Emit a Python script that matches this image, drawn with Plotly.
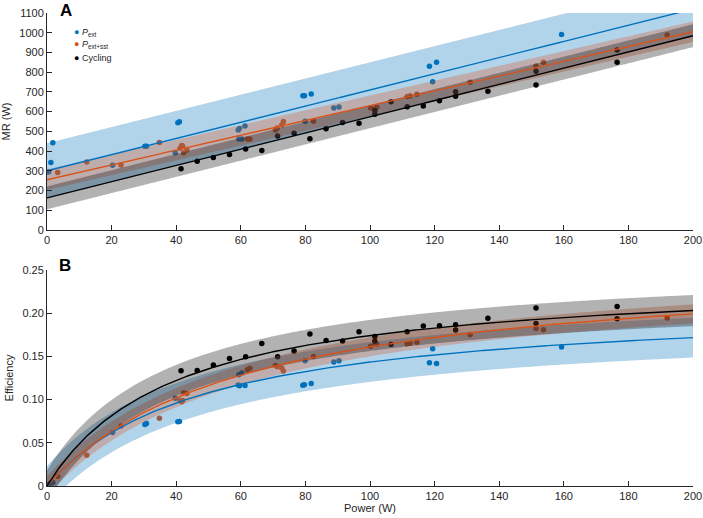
import numpy as np
import plotly.graph_objects as go

# ---------------- data ----------------
series_names = ["<i>P</i><sub>ext</sub>", "<i>P</i><sub>ext+sst</sub>", "Cycling"]

pext_power = [0.5, 1.2, 1.8, 20.3, 30.3, 30.8, 39.7, 40.5, 41.0, 59.2, 59.6, 61.3,
              59.4, 60.3, 79.2, 79.7, 81.8, 79.9, 88.8, 90.4, 118.4, 119.4, 120.6, 159.3]
pext_mr = [294, 342, 442, 328, 425, 425, 391, 544, 549, 507, 514, 527,
           461, 461, 680, 680, 689, 551, 619, 624, 830, 752, 850, 991]

pextsst_power = [3.3, 12.3, 22.9, 34.8, 41.2, 41.7, 42.0, 42.3, 43.3, 62.0, 62.8, 70.7, 71.3,
                 72.7, 73.2, 82.5, 100.2, 101.6, 102.1, 111.5, 112.4, 114.5, 131.0, 151.4, 153.7, 192.0]
pextsst_mr = [292, 345, 330, 444, 415, 428, 424, 392, 405, 461, 461, 507, 517,
              532, 550, 551, 619, 614, 622, 677, 680, 688, 749, 831, 850, 988]

cycling_power = [41.5, 46.5, 51.5, 56.5, 61.5, 66.5, 71.4, 76.5, 81.4, 86.4, 91.5, 96.6, 101.5,
                 101.5, 106.5, 111.5, 116.5, 121.5, 126.5, 126.5, 136.5, 151.4, 151.4, 176.5, 176.5]
cycling_mr = [311, 348, 368, 383, 411, 403, 477, 490, 463, 513, 545, 541, 587,
              606, 650, 625, 629, 655, 678, 701, 703, 735, 805, 850, 912]

# fitted models: MR = a + b*P ; efficiency = P / (a + b*P)
fit_mr_intercept = [300, 255, 163]
fit_mr_slope = [4.10, 3.75, 4.11]
fit_mr_band = [140, 52, 58]
fit_eff_intercept = [229, 238, 163]
fit_eff_slope = [4.68, 3.83, 4.11]
fit_eff_band = [0.023, 0.011, 0.018]

mr_ticks = list(range(0, 1101, 100))
eff_tickvals = [0, 0.05, 0.10, 0.15, 0.20, 0.25]
eff_ticktext = ["0", "0.05", "0.10", "0.15", "0.20", "0.25"]
power_ticks = list(range(0, 201, 20))

# ---------------- styling ----------------
colors = ["#0072BD", "#D95319", "#000000"]
band_colors = ["rgba(0,114,189,0.3)", "rgba(217,83,25,0.3)", "rgba(0,0,0,0.3)"]
axis_color = "#262626"
FONT = "Liberation Sans, Arial, sans-serif"

powers = [pext_power, pextsst_power, cycling_power]
mrs = [pext_mr, pextsst_mr, cycling_mr]

fig = go.Figure()

# points (drawn first so bands tint them)
for i in range(3):
    p = np.array(powers[i], dtype=float)
    m = np.array(mrs[i], dtype=float)
    fig.add_trace(go.Scatter(x=p, y=m, mode="markers", showlegend=False,
                             marker=dict(color=colors[i], size=5.5),
                             xaxis="x", yaxis="y"))
    fig.add_trace(go.Scatter(x=p, y=p / m, mode="markers", showlegend=False,
                             marker=dict(color=colors[i], size=5.5),
                             xaxis="x2", yaxis="y2"))

grid = np.linspace(0, 200, 401)

# bands
for i in range(3):
    c = fit_mr_intercept[i] + fit_mr_slope[i] * grid
    up, lo = c + fit_mr_band[i], c - fit_mr_band[i]
    fig.add_trace(go.Scatter(x=np.concatenate([grid, grid[::-1]]),
                             y=np.concatenate([up, lo[::-1]]),
                             fill="toself", fillcolor=band_colors[i], mode="none",
                             hoverinfo="skip", showlegend=False, xaxis="x", yaxis="y"))
    e = grid / (fit_eff_intercept[i] + fit_eff_slope[i] * grid)
    up, lo = e + fit_eff_band[i], e - fit_eff_band[i]
    fig.add_trace(go.Scatter(x=np.concatenate([grid, grid[::-1]]),
                             y=np.concatenate([up, lo[::-1]]),
                             fill="toself", fillcolor=band_colors[i], mode="none",
                             hoverinfo="skip", showlegend=False, xaxis="x2", yaxis="y2"))

# fit lines
for i in range(3):
    c = fit_mr_intercept[i] + fit_mr_slope[i] * grid
    fig.add_trace(go.Scatter(x=grid, y=c, mode="lines", showlegend=False,
                             line=dict(color=colors[i], width=1.4), xaxis="x", yaxis="y"))
    e = grid / (fit_eff_intercept[i] + fit_eff_slope[i] * grid)
    fig.add_trace(go.Scatter(x=grid, y=e, mode="lines", showlegend=False,
                             line=dict(color=colors[i], width=1.4), xaxis="x2", yaxis="y2"))

axis_common = dict(showline=True, linecolor=axis_color, linewidth=1, ticks="inside",
                   ticklen=5, tickcolor=axis_color, showgrid=False, zeroline=False,
                   tickfont=dict(size=11, color=axis_color, family=FONT), automargin=False)

fig.update_layout(
    width=703, height=518,
    margin=dict(l=47, r=10, t=13, b=32),
    plot_bgcolor="white", paper_bgcolor="white",
    font=dict(family=FONT, size=11, color=axis_color),
    showlegend=False,
    xaxis=dict(domain=[0, 1], range=[0, 200], tickvals=power_ticks, anchor="y", **axis_common),
    yaxis=dict(domain=[0.5412, 1], range=[0, 1100], tickvals=mr_ticks, anchor="x",
               title=dict(text="MR (W)", standoff=6, font=dict(size=11)), **axis_common),
    xaxis2=dict(domain=[0, 1], range=[0, 200], tickvals=power_ticks, anchor="y2",
                title=dict(text="Power (W)", standoff=3, font=dict(size=11)), **axis_common),
    yaxis2=dict(domain=[0, 0.4567], range=[0, 0.25], tickvals=eff_tickvals, ticktext=eff_ticktext,
                anchor="x2", title=dict(text="Efficiency", standoff=6, font=dict(size=11)), **axis_common),
)

# panel letters
fig.add_annotation(text="<b>A</b>", xref="paper", yref="paper", x=0.0294, y=1.0063,
                   showarrow=False, xanchor="center", yanchor="middle",
                   font=dict(size=17, color="black", family=FONT))
fig.add_annotation(text="<b>B</b>", xref="paper", yref="paper", x=0.0286, y=0.467,
                   showarrow=False, xanchor="center", yanchor="middle",
                   font=dict(size=17, color="black", family=FONT))

# legend (compact, as text)
leg_y = [0.9598, 0.9334, 0.9042]
for i in range(3):
    fig.add_annotation(
        text=f"<span style='color:{colors[i]}'>●</span> {series_names[i]}",
        xref="paper", yref="paper", x=0.038, y=leg_y[i], showarrow=False,
        xanchor="left", yanchor="middle", align="left",
        font=dict(size=9, color=axis_color, family=FONT))

fig.write_html("out.html")
